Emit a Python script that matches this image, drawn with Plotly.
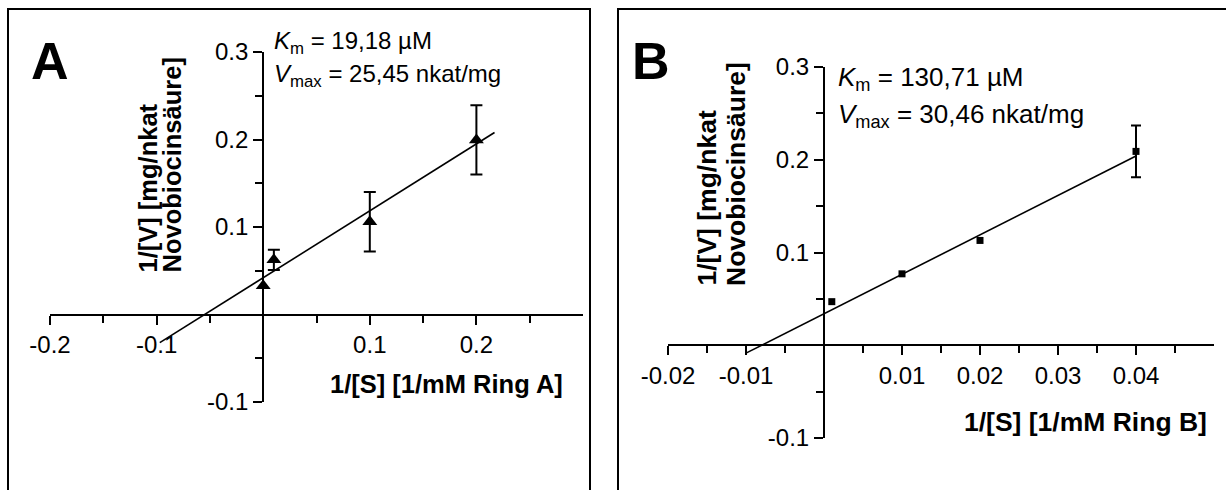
import plotly.graph_objects as go

W, H = 1226, 490

# ---------------- data ----------------
# Panel A (Ring A)
xa = [0.0, 0.01, 0.1, 0.2]
ya = [0.033, 0.0625, 0.106, 0.1995]
ea = [None, 0.0115, 0.034, 0.0395]
fit_a_x = [-0.097, 0.217]
fit_a_intercept = 0.042
fit_a_slope = 0.765
km_a_text = "19,18 µM"
vmax_a_text = "25,45 nkat/mg"

# Panel B (Ring B)
xb = [0.001, 0.01, 0.02, 0.04]
yb = [0.047, 0.077, 0.113, 0.209]
eb = [None, None, None, 0.028]
fit_b_x = [-0.01, 0.04]
fit_b_intercept = 0.034
fit_b_slope = 4.25
km_b_text = "130,71 µM"
vmax_b_text = "30,46 nkat/mg"

# ticks
a_xticks = [-0.2, -0.1, 0.1, 0.2]
a_xticktext = ["-0.2", "-0.1", "0.1", "0.2"]
a_xminor = [-0.15, -0.05, 0.05, 0.15, 0.25]
a_yticks = [-0.1, 0.1, 0.2, 0.3]
a_yticktext = ["-0.1", "0.1", "0.2", "0.3"]
a_yminor = [-0.05, 0.05, 0.15, 0.25]

b_xticks = [-0.02, -0.01, 0.01, 0.02, 0.03, 0.04]
b_xticktext = ["-0.02", "-0.01", "0.01", "0.02", "0.03", "0.04"]
b_xminor = [-0.015, -0.005, 0.005, 0.015, 0.025, 0.035, 0.045]
b_yticks = [-0.1, 0.1, 0.2, 0.3]
b_yticktext = ["-0.1", "0.1", "0.2", "0.3"]
b_yminor = [-0.05, 0.05, 0.15, 0.25]

FONT = "Liberation Sans, Arial, Helvetica, sans-serif"


def px(x):
    return x / W


def py(y):
    return 1 - y / H


# layout geometry (pixels)
A_X = (50, 583); A_XR = [-0.2, 0.3]
A_Y = (402, 52); A_YR = [-0.1, 0.3]
B_X = (668, 1214); B_XR = [-0.02, 0.05]
B_Y = (438, 67); B_YR = [-0.1, 0.3]


def dom_x(p):
    return [px(p[0]), px(p[1])]


def dom_y(p):
    return [py(p[0]), py(p[1])]


def zero_pos(dom, rng):
    return dom[0] + (0 - rng[0]) / (rng[1] - rng[0]) * (dom[1] - dom[0])


fig = go.Figure()


def add_panel(xs, ys, errs, fx, b0, b1, xr, yr, symbol, size, capw):
    fy = [b0 + b1 * v for v in fx]
    fig.add_trace(go.Scatter(x=fx, y=fy, mode="lines",
                             line=dict(color="black", width=1.6),
                             xaxis=xr, yaxis=yr, showlegend=False, hoverinfo="skip"))
    # points without error bars
    nx = [x for x, e in zip(xs, errs) if e is None]
    ny = [y for y, e in zip(ys, errs) if e is None]
    if nx:
        fig.add_trace(go.Scatter(x=nx, y=ny, mode="markers",
                                 marker=dict(symbol=symbol, size=size, color="black"),
                                 xaxis=xr, yaxis=yr, showlegend=False, cliponaxis=False))
    # points with error bars
    wx = [x for x, e in zip(xs, errs) if e is not None]
    wy = [y for y, e in zip(ys, errs) if e is not None]
    we = [e for e in errs if e is not None]
    if wx:
        fig.add_trace(go.Scatter(x=wx, y=wy, mode="markers",
                                 marker=dict(symbol=symbol, size=size, color="black"),
                                 error_y=dict(type="data", array=we, visible=True,
                                              color="black", thickness=2, width=capw),
                                 xaxis=xr, yaxis=yr, showlegend=False, cliponaxis=False))


add_panel(xa, ya, ea, fit_a_x, fit_a_intercept, fit_a_slope, "x", "y", "triangle-up", 13, 6)
add_panel(xb, yb, eb, fit_b_x, fit_b_intercept, fit_b_slope, "x2", "y2", "square", 7, 5)

tickfont = dict(family=FONT, size=24, color="black")


def axis_cfg(dom, rng, odom, orng, tv, tt, mv):
    return dict(domain=dom, range=rng, anchor="free", position=zero_pos(odom, orng),
                automargin=False,
                showline=True, linecolor="black", linewidth=2,
                ticks="outside", ticklen=9, tickwidth=2, tickcolor="black",
                tickmode="array", tickvals=tv, ticktext=tt, tickfont=tickfont,
                minor=dict(tickmode="array", tickvals=mv, ticks="outside",
                           ticklen=7, tickwidth=2, tickcolor="black", showgrid=False),
                showgrid=False, zeroline=False, fixedrange=True)


axd = dom_x(A_X); ayd = dom_y(A_Y)
bxd = dom_x(B_X); byd = dom_y(B_Y)

fig.update_layout(
    template="none",
    width=W, height=H,
    margin=dict(l=0, r=0, t=0, b=0, pad=0, autoexpand=False),
    paper_bgcolor="white", plot_bgcolor="rgba(0,0,0,0)",
    font=dict(family=FONT, color="black"),
    xaxis=axis_cfg(axd, A_XR, ayd, A_YR, a_xticks, a_xticktext, a_xminor),
    yaxis=axis_cfg(ayd, A_YR, axd, A_XR, a_yticks, a_yticktext, a_yminor),
    xaxis2=axis_cfg(bxd, B_XR, byd, B_YR, b_xticks, b_xticktext, b_xminor),
    yaxis2=axis_cfg(byd, B_YR, bxd, B_XR, b_yticks, b_yticktext, b_yminor),
    showlegend=False,
)

# panel frames
fig.add_shape(type="rect", xref="paper", yref="paper",
              x0=px(8), x1=px(590), y0=-0.2, y1=py(9),
              line=dict(color="black", width=2))
fig.add_shape(type="rect", xref="paper", yref="paper",
              x0=px(618), x1=1.2, y0=-0.2, y1=py(9),
              line=dict(color="black", width=2))


def ann(text, x, y, size, xanchor="left", yanchor="middle", bold=False, angle=0):
    if bold:
        text = "<b>" + text + "</b>"
    fig.add_annotation(text=text, x=px(x), y=py(y), xref="paper", yref="paper",
                       xanchor=xanchor, yanchor=yanchor, showarrow=False,
                       textangle=angle, font=dict(family=FONT, size=size, color="black"))


# panel letters
ann("A", 50, 61, 52, xanchor="center", bold=True)
ann("B", 651, 61, 52, xanchor="center", bold=True)

# kinetic constants
ann("<i>K</i><sub>m</sub> = " + km_a_text, 272, 43, 24)
ann("<i>V</i><sub>max</sub> = " + vmax_a_text, 272, 76, 24)
ann("<i>K</i><sub>m</sub> = " + km_b_text, 836, 79, 26)
ann("<i>V</i><sub>max</sub> = " + vmax_b_text, 836, 115, 26)

# axis titles
ann("1/[S] [1/mM Ring A]", 565, 384, 25.5, xanchor="right", bold=True)
ann("1/[S] [1/mM Ring B]", 1209, 422, 26.5, xanchor="right", bold=True)
ann("1/[V] [mg/nkat", 147, 275, 25.5, xanchor="center", yanchor="bottom", bold=True, angle=-90)
ann("Novobiocinsäure]", 171, 275, 25.5, xanchor="center", yanchor="bottom", bold=True, angle=-90)
ann("1/[V] [mg/nkat", 706, 288, 26.5, xanchor="center", yanchor="bottom", bold=True, angle=-90)
ann("Novobiocinsäure]", 736, 288, 26.5, xanchor="center", yanchor="bottom", bold=True, angle=-90)

fig.write_html("out.html")
